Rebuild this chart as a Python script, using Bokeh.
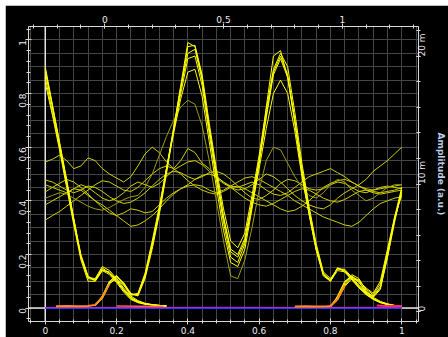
from math import pi
from bokeh.plotting import figure
from bokeh.models import (Range1d, LinearAxis, SingleIntervalTicker, Span, Label,
                          CustomJSTickFormatter)
from bokeh.embed import file_html
from bokeh.resources import INLINE

NA = float("nan")

# sample times (bit period)
X = [0.00, 0.02, 0.04, 0.06, 0.08, 0.10, 0.12, 0.14, 0.16, 0.18,
     0.20, 0.22, 0.24, 0.26, 0.28, 0.30, 0.32, 0.34, 0.36, 0.38,
     0.40, 0.42, 0.44, 0.46, 0.48, 0.50, 0.52, 0.54, 0.56, 0.58,
     0.60, 0.62, 0.64, 0.66, 0.68, 0.70, 0.72, 0.74, 0.76, 0.78,
     0.80, 0.82, 0.84, 0.86, 0.88, 0.90, 0.92, 0.94, 0.96, 0.98,
     1.00]

# bright traces: falling at start, rising at end
T1a = [0.90, 0.76, 0.62, 0.48, 0.33, 0.19, 0.11, 0.105, 0.15, 0.13,
       0.10, 0.065, 0.035, 0.022, 0.015, 0.012, 0.010, 0.008, NA, NA,
       NA, NA, NA, NA, NA, NA, NA, NA, NA, NA,
       NA, NA, NA, NA, NA, NA, NA, NA, NA, NA,
       0.005, 0.04, 0.09, 0.12, 0.10, 0.06, 0.045, 0.08, 0.20, 0.34,
       0.45]
T1b = [0.88, 0.75, 0.61, 0.47, 0.33, 0.20, 0.12, 0.10, 0.14, 0.135,
       0.105, 0.07, 0.04, 0.025, 0.017, 0.013, 0.010, 0.008, NA, NA,
       NA, NA, NA, NA, NA, NA, NA, NA, NA, NA,
       NA, NA, NA, NA, NA, NA, NA, NA, NA, NA,
       0.006, 0.035, 0.085, 0.115, 0.105, 0.07, 0.05, 0.09, 0.21, 0.33,
       0.44]
T1c = [0.86, 0.73, 0.60, 0.46, 0.32, 0.19, 0.115, 0.11, 0.155, 0.14,
       0.11, 0.075, 0.045, 0.028, 0.018, 0.013, 0.010, 0.008, NA, NA,
       NA, NA, NA, NA, NA, NA, NA, NA, NA, NA,
       NA, NA, NA, NA, NA, NA, NA, NA, NA, NA,
       0.004, 0.04, 0.095, 0.125, 0.11, 0.065, 0.04, 0.07, 0.19, 0.33,
       0.43]
T1d = [0.84, 0.72, 0.59, 0.45, 0.31, 0.18, 0.10, 0.10, 0.14, 0.125,
       0.095, 0.06, 0.032, 0.02, 0.014, 0.011, 0.009, 0.007, NA, NA,
       NA, NA, NA, NA, NA, NA, NA, NA, NA, NA,
       NA, NA, NA, NA, NA, NA, NA, NA, NA, NA,
       0.005, 0.03, 0.08, 0.11, 0.10, 0.075, 0.055, 0.10, 0.22, 0.34,
       0.42]
T1e = [0.89, 0.755, 0.615, 0.475, 0.335, 0.195, 0.115, 0.105, 0.145, 0.13,
       0.10, 0.068, 0.038, 0.024, 0.016, 0.012, 0.010, 0.008, NA, NA,
       NA, NA, NA, NA, NA, NA, NA, NA, NA, NA,
       NA, NA, NA, NA, NA, NA, NA, NA, NA, NA,
       0.005, 0.045, 0.10, 0.12, 0.095, 0.06, 0.042, 0.075, 0.19, 0.32,
       0.44]

# bright traces: two pulses in the middle
T2a = [NA, NA, NA, NA, NA, NA, NA, 0.01, 0.04, 0.095,
       0.118, 0.09, 0.05, 0.05, 0.12, 0.23, 0.36, 0.52, 0.67, 0.83,
       0.99, 0.975, 0.86, 0.67, 0.50, 0.34, 0.22, 0.20, 0.26, 0.40,
       0.55, 0.75, 0.94, 0.96, 0.86, 0.70, 0.52, 0.37, 0.23, 0.13,
       0.105, 0.15, 0.14, 0.11, 0.08, 0.055, 0.035, 0.022, 0.014, 0.009,
       0.006]
T2b = [NA, NA, NA, NA, NA, NA, NA, 0.008, 0.035, 0.09,
       0.115, 0.095, 0.055, 0.045, 0.11, 0.22, 0.35, 0.50, 0.66, 0.82,
       0.975, 0.98, 0.87, 0.69, 0.52, 0.37, 0.25, 0.225, 0.28, 0.42,
       0.57, 0.74, 0.89, 0.95, 0.90, 0.73, 0.54, 0.38, 0.24, 0.135,
       0.11, 0.145, 0.145, 0.115, 0.085, 0.06, 0.04, 0.025, 0.016, 0.01,
       0.007]
T2c = [NA, NA, NA, NA, NA, NA, NA, 0.012, 0.045, 0.10,
       0.12, 0.088, 0.048, 0.052, 0.125, 0.24, 0.37, 0.52, 0.66, 0.80,
       0.93, 0.94, 0.83, 0.65, 0.48, 0.32, 0.19, 0.17, 0.24, 0.39,
       0.55, 0.72, 0.88, 0.94, 0.87, 0.70, 0.51, 0.36, 0.22, 0.125,
       0.10, 0.15, 0.135, 0.105, 0.075, 0.05, 0.032, 0.02, 0.013, 0.009,
       0.006]
T2d = [NA, NA, NA, NA, NA, NA, NA, 0.01, 0.038, 0.092,
       0.11, 0.085, 0.05, 0.055, 0.13, 0.25, 0.38, 0.52, 0.65, 0.78,
       0.88, 0.89, 0.79, 0.62, 0.45, 0.29, 0.17, 0.155, 0.22, 0.37,
       0.54, 0.71, 0.87, 0.93, 0.86, 0.69, 0.50, 0.35, 0.215, 0.12,
       0.10, 0.14, 0.135, 0.108, 0.078, 0.052, 0.034, 0.021, 0.013, 0.008,
       0.005]
T2e = [NA, NA, NA, NA, NA, NA, NA, 0.01, 0.04, 0.098,
       0.122, 0.092, 0.052, 0.048, 0.118, 0.235, 0.36, 0.51, 0.67, 0.82,
       0.95, 0.965, 0.85, 0.67, 0.50, 0.34, 0.21, 0.19, 0.25, 0.38,
       0.52, 0.67, 0.80, 0.85, 0.80, 0.66, 0.49, 0.35, 0.22, 0.125,
       0.105, 0.148, 0.14, 0.11, 0.08, 0.056, 0.036, 0.023, 0.015, 0.01,
       0.006]

# fainter mid-level traces
M1 = [0.545, 0.555, 0.57, 0.55, 0.52, 0.53, 0.56, 0.55, 0.52, 0.50,
      0.485, 0.47, 0.49, 0.53, 0.575, 0.60, 0.58, 0.545, 0.52, 0.55,
      0.595, 0.58, 0.54, 0.52, 0.49, 0.47, 0.455, 0.45, 0.46, 0.47,
      0.46, 0.44, 0.425, 0.42, 0.43, 0.45, 0.47, 0.49, 0.50, 0.51,
      0.52, 0.505, 0.49, 0.47, 0.455, 0.445, 0.44, 0.445, 0.45, 0.455,
      0.46]
M2 = [0.46, 0.45, 0.44, 0.43, 0.445, 0.46, 0.45, 0.43, 0.41, 0.40,
      0.41, 0.43, 0.455, 0.47, 0.46, 0.45, 0.465, 0.49, 0.515, 0.53,
      0.545, 0.55, 0.535, 0.51, 0.485, 0.465, 0.45, 0.44, 0.445, 0.46,
      0.48, 0.50, 0.49, 0.47, 0.445, 0.42, 0.40, 0.385, 0.375, 0.37,
      0.385, 0.41, 0.43, 0.445, 0.46, 0.48, 0.51, 0.53, 0.55, 0.575,
      0.60]
M3 = [0.478, 0.47, 0.455, 0.44, 0.43, 0.44, 0.455, 0.45, 0.435, 0.415,
      0.40, 0.39, 0.395, 0.41, 0.43, 0.455, 0.48, 0.50, 0.51, 0.505,
      0.49, 0.48, 0.49, 0.505, 0.51, 0.50, 0.48, 0.455, 0.43, 0.41,
      0.405, 0.42, 0.44, 0.465, 0.48, 0.475, 0.46, 0.445, 0.44, 0.445,
      0.46, 0.47, 0.465, 0.45, 0.435, 0.43, 0.44, 0.45, 0.455, 0.45,
      0.445]
M4 = [0.433, 0.45, 0.465, 0.48, 0.47, 0.45, 0.425, 0.40, 0.375, 0.355,
      0.345, 0.355, 0.37, 0.365, 0.355, 0.36, 0.385, 0.41, 0.43, 0.445,
      0.46, 0.48, 0.495, 0.50, 0.49, 0.47, 0.45, 0.43, 0.41, 0.395,
      0.385, 0.38, 0.39, 0.405, 0.42, 0.435, 0.445, 0.44, 0.425, 0.41,
      0.40, 0.395, 0.405, 0.42, 0.435, 0.44, 0.435, 0.43, 0.435, 0.44,
      0.45]
M5 = [0.385, 0.40, 0.415, 0.43, 0.445, 0.44, 0.42, 0.40, 0.385, 0.365,
      0.345, 0.325, 0.305, 0.31, 0.325, 0.345, 0.37, 0.40, 0.425, 0.445,
      0.455, 0.46, 0.455, 0.44, 0.43, 0.44, 0.455, 0.47, 0.485, 0.49,
      0.48, 0.465, 0.45, 0.435, 0.42, 0.40, 0.385, 0.37, 0.355, 0.34,
      0.33, 0.32, 0.31, 0.305, 0.32, 0.345, 0.37, 0.39, 0.40, 0.41,
      0.415]
M6 = [0.328, 0.345, 0.36, 0.38, 0.40, 0.42, 0.44, 0.46, 0.475, 0.47,
      0.455, 0.44, 0.435, 0.45, 0.475, 0.50, 0.52, 0.53, 0.52, 0.50,
      0.475, 0.455, 0.44, 0.43, 0.425, 0.435, 0.45, 0.455, 0.445, 0.43,
      0.415, 0.40, 0.385, 0.37, 0.36, 0.365, 0.38, 0.40, 0.425, 0.45,
      0.465, 0.475, 0.48, 0.47, 0.455, 0.44, 0.43, 0.425, 0.43, 0.435,
      0.44]
D1 = [0.41, 0.42, 0.43, 0.425, 0.41, 0.395, 0.38, 0.37, 0.365, 0.375,
      0.39, 0.405, 0.415, 0.42, 0.45, 0.50, 0.57, 0.64, 0.70, 0.75,
      0.775, 0.76, 0.68, 0.55, 0.40, 0.25, 0.12, 0.11, 0.18, 0.30,
      0.44, 0.55, 0.60, 0.59, 0.54, 0.49, 0.45, 0.42, 0.41, 0.43,
      0.46, 0.48, 0.47, 0.44, 0.42, 0.40, 0.41, 0.43, 0.45, 0.46,
      0.46]

# near-zero level traces
BASE_X = [0.0, 0.25, 0.5, 0.75, 1.0]
BLUE_Y = [0.0, 0.0, 0.0, 0.0, 0.0]
PURPLE_Y = [0.002, 0.002, 0.003, 0.002, 0.003]
ORANGE1_X = [0.03, 0.06, 0.09, 0.12, 0.14, 0.16, 0.18]
ORANGE1_Y = [0.007, 0.008, 0.007, 0.008, 0.012, 0.04, 0.09]
ORANGE2_X = [0.70, 0.73, 0.76, 0.79, 0.80, 0.82, 0.84]
ORANGE2_Y = [0.006, 0.007, 0.006, 0.007, 0.008, 0.035, 0.085]
PINK_X = [0.20, 0.26, 0.33]
PINK_Y = [0.008, 0.007, 0.006]
RED_X = [0.93, 0.96, 1.0]
RED_Y = [0.01, 0.008, 0.008]

AX_COL = "#d8d8d8"
LBL_COL = "#ececec"
FONT = "DejaVu Sans"

p = figure(width=443, height=332,
           x_range=Range1d(-0.047, 1.047), y_range=Range1d(-0.05, 1.05),
           output_backend="svg", toolbar_location=None,
           min_border_left=23, min_border_right=26, min_border_top=21, min_border_bottom=16,
           background_fill_color="black", border_fill_color="black",
           outline_line_color=None)
p.margin = (5, 0, 0, 5)
p.extra_x_ranges = {"time": Range1d(-0.321, 1.321)}
p.extra_y_ranges = {"amp": Range1d(-0.00078, 0.02235)}

num_fmt = CustomJSTickFormatter(code="return Number(tick.toFixed(2)).toString();")


def style(ax, tin, tout, mtin, mtout, standoff):
    ax.axis_line_color = AX_COL
    ax.major_tick_line_color = AX_COL
    ax.minor_tick_line_color = AX_COL
    ax.major_tick_in = tin
    ax.major_tick_out = tout
    ax.minor_tick_in = mtin
    ax.minor_tick_out = mtout
    ax.major_label_text_color = LBL_COL
    ax.major_label_text_font = FONT
    ax.major_label_text_font_size = "9px"
    ax.major_label_standoff = standoff


bottom = p.below[0]
bottom.ticker = SingleIntervalTicker(interval=0.2, num_minor_ticks=5)
bottom.formatter = num_fmt
style(bottom, 3, 3, 2, 2, 2)

left = p.left[0]
left.ticker = SingleIntervalTicker(interval=0.2, num_minor_ticks=5)
left.formatter = num_fmt
left.major_label_orientation = pi / 2
style(left, 3, 3, 2, 2, 3)

top = LinearAxis(x_range_name="time",
                 ticker=SingleIntervalTicker(interval=0.5, num_minor_ticks=5),
                 formatter=CustomJSTickFormatter(code="return Number(tick.toFixed(2)).toString();"))
style(top, 2, 3, 2, 2, 1)
p.add_layout(top, "above")

right = LinearAxis(y_range_name="amp",
                   ticker=SingleIntervalTicker(interval=0.01, num_minor_ticks=5),
                   formatter=CustomJSTickFormatter(
                       code="return Math.abs(tick) < 1e-9 ? '0' : Math.round(tick*1000) + ' m';"))
right.major_label_orientation = pi / 2
style(right, 2, 2, 2, 2, 2)
right.axis_label = "Amplitude (a.u.)"
right.axis_label_text_color = "#b8cce6"
right.axis_label_text_font = FONT
right.axis_label_text_font_size = "9px"
right.axis_label_text_font_style = "bold"
right.axis_label_standoff = 0
try:
    right.axis_label_orientation = "vertical"
except Exception:
    pass
p.add_layout(right, "right")

p.xgrid.ticker = SingleIntervalTicker(interval=0.04)
p.ygrid.ticker = SingleIntervalTicker(interval=0.05)
p.xgrid.grid_line_color = "#454545"
p.ygrid.grid_line_color = "#454545"

p.add_layout(Span(location=0, dimension="height", line_color="#e4e4e4", line_width=1.5, level="underlay"))
p.add_layout(Span(location=0, dimension="width", line_color="#e4e4e4", line_width=1.5, level="underlay"))

for M in [M1, M2, M3, M4, M5, M6]:
    p.line(X, M, line_color="#d0d000", line_width=1)
p.line(X, D1, line_color="#9c9c10", line_width=1)

for T in [T1a, T1b, T1c, T1d, T1e, T2a, T2b, T2c, T2d, T2e]:
    p.line(X, T, line_color="#ffff00", line_width=1.0)

p.line(BASE_X, BLUE_Y, line_color="#3232ff", line_width=2)
p.line(BASE_X, PURPLE_Y, line_color="#b428e6", line_width=1)
p.line(ORANGE1_X, ORANGE1_Y, line_color="#ff8c1a", line_width=2)
p.line(ORANGE2_X, ORANGE2_Y, line_color="#ff8c1a", line_width=2)
p.line(PINK_X, PINK_Y, line_color="#ff6040", line_width=1.5)
p.line(RED_X, RED_Y, line_color="#ff2864", line_width=2)

p.add_layout(Label(x=197, y=311, x_units="screen", y_units="screen",
                   text="Time (bit period)", text_align="center", text_baseline="middle",
                   text_color="#f4f4f4", text_font=FONT, text_font_size="9px",
                   text_font_style="bold"))

open("out.html", "w").write(file_html(p, INLINE))
